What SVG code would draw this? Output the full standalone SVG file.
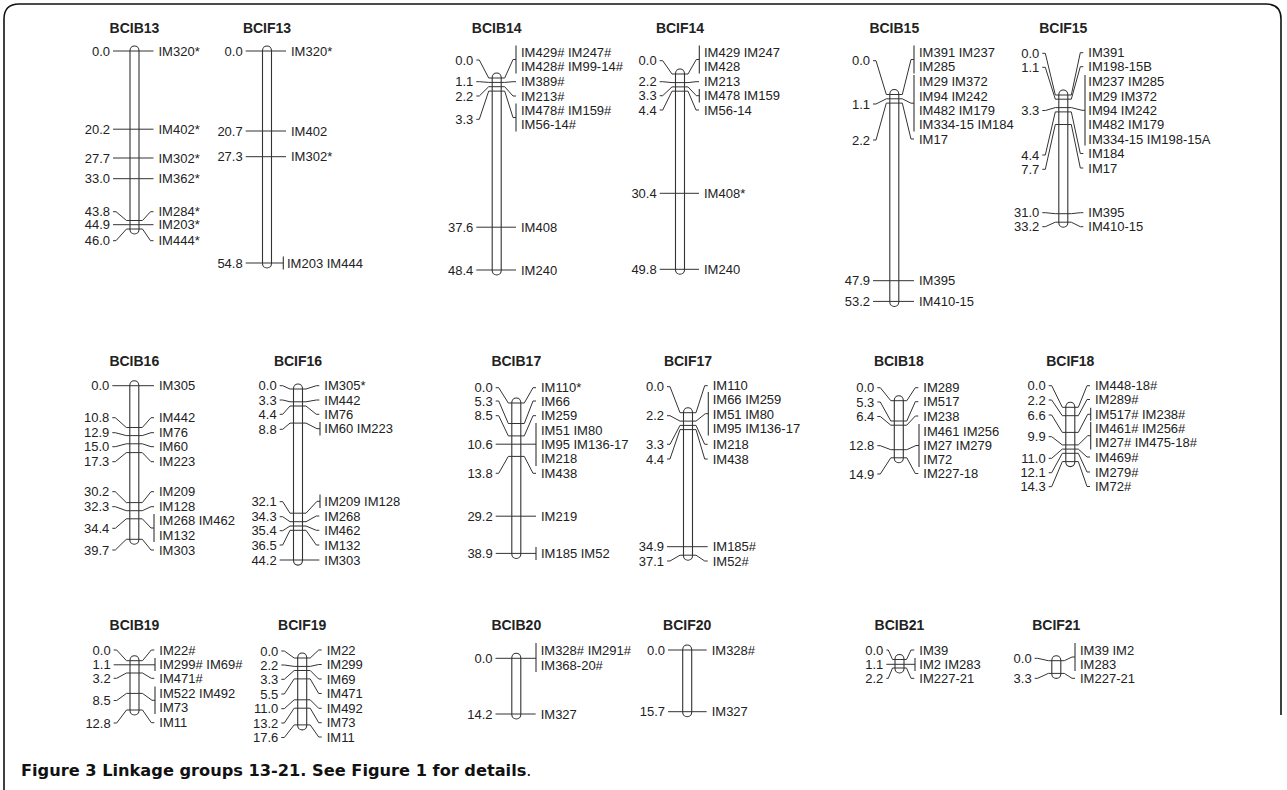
<svg xmlns="http://www.w3.org/2000/svg" width="1287" height="790" viewBox="0 0 1287 790">
<style>
text{font-family:"Liberation Sans",Arial,sans-serif;font-size:13px;fill:#222}
.h{font-weight:bold;text-anchor:middle;font-size:14px}
.n{text-anchor:end}
.bar{fill:#fff;stroke:#333;stroke-width:1.1}
.br{stroke:#333;stroke-width:1.1;fill:none}
.c path{fill:none;stroke:#333;stroke-width:1}
.cap{font-family:"DejaVu Sans","Open Sans",sans-serif;font-size:16.2px;font-weight:bold;fill:#111}
</style>
<rect width="1287" height="790" fill="#fff"/>
<path d="M4,790 V19 Q4,4 19,4 H1266 Q1281,4 1281,19 V715" fill="none" stroke="#111" stroke-width="1.6"/>

<g id="BCIB13">
<text class="h" x="134.5" y="32.5">BCIB13</text>
<rect class="bar" x="130" y="46" width="9" height="188" rx="4.5"/>
<text class="n" x="110" y="55.5">0.0</text><text class="n" x="110" y="133.7">20.2</text><text class="n" x="110" y="162.5">27.7</text><text class="n" x="110" y="183.2">33.0</text><text class="n" x="110" y="216.2">43.8</text><text class="n" x="110" y="229.2">44.9</text><text class="n" x="110" y="245.2">46.0</text>
<text x="158.5" y="55.5">IM320*</text><text x="158.5" y="133.7">IM402*</text><text x="158.5" y="162.5">IM302*</text><text x="158.5" y="183.2">IM362*</text><text x="158.5" y="216.2">IM284*</text><text x="158.5" y="229.2">IM203*</text><text x="158.5" y="245.2">IM444*</text>
</g>

<g id="BCIF13">
<text class="h" x="267" y="32.5">BCIF13</text>
<rect class="bar" x="262.5" y="46" width="9" height="222" rx="4.5"/>
<text class="n" x="242.7" y="55.5">0.0</text><text class="n" x="242.7" y="135.5">20.7</text><text class="n" x="242.7" y="161.2">27.3</text><text class="n" x="242.7" y="267.5">54.8</text>
<text x="291" y="55.5">IM320*</text><text x="291" y="135.5">IM402</text><text x="291" y="161.2">IM302*</text><text x="287" y="267.5">IM203 IM444</text>
<path class="br" d="M283.3,256.5V269.5"/>
</g>

<g id="BCIB14">
<text class="h" x="496.7" y="32.5">BCIB14</text>
<rect class="bar" x="492.2" y="73" width="9" height="202" rx="4.5"/>
<text class="n" x="473.3" y="64.5">0.0</text><text class="n" x="473.3" y="86.2">1.1</text><text class="n" x="473.3" y="100.5">2.2</text><text class="n" x="473.3" y="123.8">3.3</text><text class="n" x="473.3" y="231.7">37.6</text><text class="n" x="473.3" y="274.5">48.4</text>
<text x="521" y="57.2">IM429# IM247#</text><text x="521" y="71.2">IM428# IM99-14#</text><text x="521" y="86.2">IM389#</text><text x="521" y="100.5">IM213#</text><text x="521" y="115">IM478# IM159#</text><text x="521" y="129.3">IM56-14#</text><text x="521" y="231.7">IM408</text><text x="521" y="274.5">IM240</text>
<path class="br" d="M516,45.5V73.5M516,103.5V131.5"/>
</g>

<g id="BCIF14">
<text class="h" x="680" y="32.5">BCIF14</text>
<rect class="bar" x="675.5" y="69" width="9" height="205.2" rx="4.5"/>
<text class="n" x="656.7" y="65.2">0.0</text><text class="n" x="656.7" y="86.2">2.2</text><text class="n" x="656.7" y="100.2">3.3</text><text class="n" x="656.7" y="114.5">4.4</text><text class="n" x="656.7" y="197.8">30.4</text><text class="n" x="656.7" y="273.8">49.8</text>
<text x="704" y="57.2">IM429 IM247</text><text x="704" y="71.2">IM428</text><text x="704" y="86.2">IM213</text><text x="704" y="100.2">IM478 IM159</text><text x="704" y="114.5">IM56-14</text><text x="704" y="197.8">IM408*</text><text x="704" y="273.8">IM240</text>
<path class="br" d="M699.3,45.5V73.5M699.3,89V102.5"/>
</g>

<g id="BCIB15">
<text class="h" x="894.3" y="32.5">BCIB15</text>
<rect class="bar" x="889.8" y="89.5" width="9" height="217" rx="4.5"/>
<text class="n" x="870" y="65.2">0.0</text><text class="n" x="870" y="108.5">1.1</text><text class="n" x="870" y="144.5">2.2</text><text class="n" x="870" y="285.2">47.9</text><text class="n" x="870" y="305.9">53.2</text>
<text x="919" y="57.2">IM391 IM237</text><text x="919" y="71.2">IM285</text><text x="919" y="86.2">IM29 IM372</text><text x="919" y="100.5">IM94 IM242</text><text x="919" y="114.8">IM482 IM179</text><text x="919" y="129.2">IM334-15 IM184</text><text x="919" y="143.5">IM17</text><text x="919" y="285.2">IM395</text><text x="919" y="305.9">IM410-15</text>
<path class="br" d="M914,45.5V73.5M914,75V131.5"/>
</g>

<g id="BCIF15">
<text class="h" x="1063.3" y="32.5">BCIF15</text>
<rect class="bar" x="1058.8" y="90" width="9" height="137.2" rx="4.5"/>
<text class="n" x="1039.3" y="57.8">0.0</text><text class="n" x="1039.3" y="71.8">1.1</text><text class="n" x="1039.3" y="115">3.3</text><text class="n" x="1039.3" y="159.5">4.4</text><text class="n" x="1039.3" y="173.8">7.7</text><text class="n" x="1039.3" y="217.2">31.0</text><text class="n" x="1039.3" y="231.2">33.2</text>
<text x="1088.3" y="57.2">IM391</text><text x="1088.3" y="71.2">IM198-15B</text><text x="1088.3" y="86.2">IM237 IM285</text><text x="1088.3" y="100.5">IM29 IM372</text><text x="1088.3" y="114.8">IM94 IM242</text><text x="1088.3" y="129">IM482 IM179</text><text x="1088.3" y="143.5">IM334-15 IM198-15A</text><text x="1088.3" y="158">IM184</text><text x="1088.3" y="172.5">IM17</text><text x="1088.3" y="217.2">IM395</text><text x="1088.3" y="231.2">IM410-15</text>
<path class="br" d="M1085,75V145.5"/>
</g>

<g id="BCIB16">
<text class="h" x="134.3" y="366">BCIB16</text>
<rect class="bar" x="129.8" y="380.7" width="9" height="163.6" rx="4.5"/>
<text class="n" x="109.3" y="390.2">0.0</text><text class="n" x="109.3" y="422.2">10.8</text><text class="n" x="109.3" y="437.2">12.9</text><text class="n" x="109.3" y="451.2">15.0</text><text class="n" x="109.3" y="466.2">17.3</text><text class="n" x="109.3" y="496.2">30.2</text><text class="n" x="109.3" y="511.2">32.3</text><text class="n" x="109.3" y="532.8">34.4</text><text class="n" x="109.3" y="554.5">39.7</text>
<text x="159" y="390.2">IM305</text><text x="159" y="422.2">IM442</text><text x="159" y="437.2">IM76</text><text x="159" y="451.2">IM60</text><text x="159" y="466.2">IM223</text><text x="159" y="496.2">IM209</text><text x="159" y="511.2">IM128</text><text x="159" y="525.2">IM268 IM462</text><text x="159" y="539.5">IM132</text><text x="159" y="554.5">IM303</text>
<path class="br" d="M154,514V542"/>
</g>

<g id="BCIF16">
<text class="h" x="298" y="366">BCIF16</text>
<rect class="bar" x="293.5" y="384" width="9" height="181.1" rx="4.5"/>
<text class="n" x="276.7" y="390.2">0.0</text><text class="n" x="276.7" y="404.5">3.3</text><text class="n" x="276.7" y="418.8">4.4</text><text class="n" x="276.7" y="433.8">8.8</text><text class="n" x="276.7" y="506.2">32.1</text><text class="n" x="276.7" y="521.2">34.3</text><text class="n" x="276.7" y="535.2">35.4</text><text class="n" x="276.7" y="549.5">36.5</text><text class="n" x="276.7" y="564.5">44.2</text>
<text x="324.3" y="390.2">IM305*</text><text x="324.3" y="404.5">IM442</text><text x="324.3" y="418.8">IM76</text><text x="324.3" y="433.2">IM60 IM223</text><text x="324.3" y="505.8">IM209 IM128</text><text x="324.3" y="520.5">IM268</text><text x="324.3" y="534.8">IM462</text><text x="324.3" y="549.5">IM132</text><text x="324.3" y="564.5">IM303</text>
<path class="br" d="M320,422V435.5M320,494.5V508"/>
</g>

<g id="BCIB17">
<text class="h" x="516.3" y="366">BCIB17</text>
<rect class="bar" x="511.8" y="398" width="9" height="160.5" rx="4.5"/>
<text class="n" x="492.7" y="392.2">0.0</text><text class="n" x="492.7" y="405.5">5.3</text><text class="n" x="492.7" y="420.2">8.5</text><text class="n" x="492.7" y="448.8">10.6</text><text class="n" x="492.7" y="477.8">13.8</text><text class="n" x="492.7" y="520.8">29.2</text><text class="n" x="492.7" y="557.9">38.9</text>
<text x="541" y="392.2">IM110*</text><text x="541" y="405.5">IM66</text><text x="541" y="420.2">IM259</text><text x="541" y="434.5">IM51 IM80</text><text x="541" y="448.8">IM95 IM136-17</text><text x="541" y="463.2">IM218</text><text x="541" y="477.8">IM438</text><text x="541" y="520.8">IM219</text><text x="541" y="557.9">IM185 IM52</text>
<path class="br" d="M536,423V466M536,547V560"/>
</g>

<g id="BCIF17">
<text class="h" x="688" y="366">BCIF17</text>
<rect class="bar" x="683.5" y="407.7" width="9" height="152.5" rx="4.5"/>
<text class="n" x="664" y="391.2">0.0</text><text class="n" x="664" y="420.2">2.2</text><text class="n" x="664" y="448.8">3.3</text><text class="n" x="664" y="463.5">4.4</text><text class="n" x="664" y="551.2">34.9</text><text class="n" x="664" y="565.5">37.1</text>
<text x="712.7" y="390.2">IM110</text><text x="712.7" y="403.8">IM66 IM259</text><text x="712.7" y="418.5">IM51 IM80</text><text x="712.7" y="433">IM95 IM136-17</text><text x="712.7" y="448.8">IM218</text><text x="712.7" y="463.5">IM438</text><text x="712.7" y="551.2">IM185#</text><text x="712.7" y="565.5">IM52#</text>
<path class="br" d="M708.3,392V435.5"/>
</g>

<g id="BCIB18">
<text class="h" x="898.8" y="366">BCIB18</text>
<rect class="bar" x="894.3" y="395.7" width="9" height="67.1" rx="4.5"/>
<text class="n" x="874.3" y="392.2">0.0</text><text class="n" x="874.3" y="406.5">5.3</text><text class="n" x="874.3" y="421">6.4</text><text class="n" x="874.3" y="450.2">12.8</text><text class="n" x="874.3" y="478.5">14.9</text>
<text x="923.3" y="392.2">IM289</text><text x="923.3" y="406.2">IM517</text><text x="923.3" y="420.5">IM238</text><text x="923.3" y="435.5">IM461 IM256</text><text x="923.3" y="449.8">IM27 IM279</text><text x="923.3" y="464">IM72</text><text x="923.3" y="478">IM227-18</text>
<path class="br" d="M919,424V467"/>
</g>

<g id="BCIF18">
<text class="h" x="1070.3" y="366">BCIF18</text>
<rect class="bar" x="1065.8" y="402.3" width="9" height="64.3" rx="4.5"/>
<text class="n" x="1045.7" y="390.2">0.0</text><text class="n" x="1045.7" y="404.5">2.2</text><text class="n" x="1045.7" y="419.5">6.6</text><text class="n" x="1045.7" y="441.2">9.9</text><text class="n" x="1045.7" y="462.8">11.0</text><text class="n" x="1045.7" y="477.2">12.1</text><text class="n" x="1045.7" y="491.2">14.3</text>
<text x="1095" y="390.2">IM448-18#</text><text x="1095" y="404">IM289#</text><text x="1095" y="418.8">IM517# IM238#</text><text x="1095" y="433">IM461# IM256#</text><text x="1095" y="447.3">IM27# IM475-18#</text><text x="1095" y="461.5">IM469#</text><text x="1095" y="476.5">IM279#</text><text x="1095" y="491">IM72#</text>
<path class="br" d="M1090.7,407.8V420.8M1090.7,422V449.5"/>
</g>

<g id="BCIB19">
<text class="h" x="134.5" y="630">BCIB19</text>
<rect class="bar" x="130" y="655.7" width="9" height="59.3" rx="4.5"/>
<text class="n" x="110.7" y="654.5">0.0</text><text class="n" x="110.7" y="669.3">1.1</text><text class="n" x="110.7" y="682.8">3.2</text><text class="n" x="110.7" y="705">8.5</text><text class="n" x="110.7" y="727.5">12.8</text>
<text x="159.3" y="654.5">IM22#</text><text x="159.3" y="669">IM299# IM69#</text><text x="159.3" y="682.8">IM471#</text><text x="159.3" y="697.8">IM522 IM492</text><text x="159.3" y="712.2">IM73</text><text x="159.3" y="727.2">IM11</text>
<path class="br" d="M155,658V671M155,686.5V714"/>
</g>

<g id="BCIF19">
<text class="h" x="302.2" y="630">BCIF19</text>
<rect class="bar" x="297.7" y="653" width="9" height="76.9" rx="4.5"/>
<text class="n" x="278.3" y="655.5">0.0</text><text class="n" x="278.3" y="669.5">2.2</text><text class="n" x="278.3" y="683.8">3.3</text><text class="n" x="278.3" y="698.5">5.5</text><text class="n" x="278.3" y="713.2">11.0</text><text class="n" x="278.3" y="727.5">13.2</text><text class="n" x="278.3" y="742">17.6</text>
<text x="326.7" y="654.5">IM22</text><text x="326.7" y="669">IM299</text><text x="326.7" y="683.5">IM69</text><text x="326.7" y="698">IM471</text><text x="326.7" y="712.8">IM492</text><text x="326.7" y="727.2">IM73</text><text x="326.7" y="741.5">IM11</text>
</g>

<g id="BCIB20">
<text class="h" x="516.3" y="630">BCIB20</text>
<rect class="bar" x="511.8" y="653.3" width="9" height="65.7" rx="4.5"/>
<text class="n" x="492.5" y="662.8">0.0</text><text class="n" x="492.5" y="718.5">14.2</text>
<text x="540.7" y="654.5">IM328# IM291#</text><text x="540.7" y="669.5">IM368-20#</text><text x="540.7" y="718.5">IM327</text>
<path class="br" d="M536,643V672"/>
</g>

<g id="BCIF20">
<text class="h" x="687.2" y="630">BCIF20</text>
<rect class="bar" x="682.7" y="645" width="9" height="71.7" rx="4.5"/>
<text class="n" x="665" y="654.5">0.0</text><text class="n" x="665" y="716.2">15.7</text>
<text x="711.7" y="654.5">IM328#</text><text x="711.7" y="716.2">IM327</text>
</g>

<g id="BCIB21">
<text class="h" x="899.5" y="630">BCIB21</text>
<rect class="bar" x="895" y="654.5" width="9" height="18.5" rx="4.5"/>
<text class="n" x="883.3" y="654.5">0.0</text><text class="n" x="883.3" y="668.8">1.1</text><text class="n" x="883.3" y="682.8">2.2</text>
<text x="919.3" y="654.5">IM39</text><text x="919.3" y="668.8">IM2 IM283</text><text x="919.3" y="682.8">IM227-21</text>
<path class="br" d="M915,658V671"/>
</g>

<g id="BCIF21">
<text class="h" x="1056.3" y="630">BCIF21</text>
<rect class="bar" x="1051.8" y="655.7" width="9" height="22.7" rx="4.5"/>
<text class="n" x="1031.7" y="662.8">0.0</text><text class="n" x="1031.7" y="682.8">3.3</text>
<text x="1080" y="654.5">IM39 IM2</text><text x="1080" y="668.8">IM283</text><text x="1080" y="682.8">IM227-21</text>
<path class="br" d="M1075,643V671"/>
</g>

<g id="connectors" class="c">
<path d="M113 51H153.5M113 129.2H153.5M113 158H153.5M113 178.7H153.5M113 211.7H116L126.5 220.5H142.5L150.5 211.7H153.5M113 224.7H153.5M113 240.7H116L126.5 229H142.5L150.5 240.7H153.5"/>
<path d="M245.7 51H286M245.7 131H286M245.7 156.7H286M245.7 263H283.3"/>
<path d="M476.3 60H479.3L488.7 78H504.7L513 59.5H516M476.3 81.7H479.3L488.7 82.4H504.7L513 81.7H516M476.3 96H479.3L488.7 86.7H504.7L513 96H516M476.3 119.3H479.3L488.7 91.1H504.7L513 117.5H516M476.3 227.2H516M476.3 270H516"/>
<path d="M659.7 60.7H662.7L672 74H688L696.3 59.5H699.3M659.7 81.7H662.7L672 82.6H688L696 81.7H699M659.7 95.7H662.7L672 86.9H688L696.3 95.7H699.3M659.7 110H662.7L672 91.2H688L696 110H699M659.7 193.3H699M659.7 269.3H699"/>
<path d="M873 60.7H876L886.3 94.5H902.3L911 59.5H914M873 104H876L886.3 98.8H902.3L911 103.2H914M873 140H876L886.3 103.1H902.3L911 139H914M873 280.7H914M873 301.4H914"/>
<path d="M1042.3 53.3H1045.3L1055.3 95H1071.3L1080.3 52.7H1083.3M1042.3 67.3H1045.3L1055.3 99.2H1071.3L1080.3 66.7H1083.3M1042.3 110.5H1045.3L1055.3 107.6H1071.3L1082 110.3H1085M1042.3 155H1045.3L1055.3 111.9H1071.3L1080.3 153.5H1083.3M1042.3 169.3H1045.3L1055.3 124.5H1071.3L1080.3 168H1083.3M1042.3 212.7H1045.3L1055.3 213.7H1071.3L1080.3 212.7H1083.3M1042.3 226.7H1045.3L1055.3 222.2H1071.3L1080.3 226.7H1083.3"/>
<path d="M112.3 385.7H154M112.3 417.7H115.3L126.3 427.5H142.3L151 417.7H154M112.3 432.7H115.3L126.3 435.6H142.3L151 432.7H154M112.3 446.7H115.3L126.3 443.8H142.3L151 446.7H154M112.3 461.7H115.3L126.3 452.6H142.3L151 461.7H154M112.3 491.7H115.3L126.3 502.6H142.3L151 491.7H154M112.3 506.7H115.3L126.3 510.7H142.3L151 506.7H154M112.3 528.3H115.3L126.3 518.8H142.3L151 528H154M112.3 550H115.3L126.3 539.3H142.3L151 550H154"/>
<path d="M279.7 385.7H282.7L290 389H306L316.3 385.7H319.3M279.7 400H282.7L290 401.8H306L316.3 400H319.3M279.7 414.3H282.7L290 406H306L316.3 414.3H319.3M279.7 429.3H282.7L290 423.1H306L317 428.7H320M279.7 501.7H282.7L290 513.2H306L317 501.3H320M279.7 516.7H282.7L290 521.7H306L316.3 516H319.3M279.7 530.7H282.7L290 526H306L316.3 530.3H319.3M279.7 545H282.7L290 530.3H306L316.3 545H319.3M279.7 560H319.3"/>
<path d="M495.7 387.7H498.7L508.3 403H524.3L533 387.7H536M495.7 401H498.7L508.3 423.5H524.3L533 401H536M495.7 415.7H498.7L508.3 435.9H524.3L533 415.7H536M495.7 444.2H536M495.7 473.3H498.7L508.3 456.4H524.3L533 473.3H536M495.7 516.2H536M495.7 553.4H536"/>
<path d="M667 386.7H670L680 412.7H696L704.7 385.7H707.7M667 415.7H670L680 421.1H696L705.3 413.7H708.3M667 444.3H670L680 425.4H696L704.7 444.3H707.7M667 459H670L680 429.6H696L704.7 459H707.7M667 546.7H707.7M667 561H670L680 555.2H696L704.7 561H707.7"/>
<path d="M877.3 387.7H880.3L890.8 400.7H906.8L915.3 387.7H918.3M877.3 402H880.3L890.8 421H906.8L915.3 401.7H918.3M877.3 416.5H880.3L890.8 425.2H906.8L915.3 416H918.3M877.3 445.7H880.3L890.8 449.7H906.8L916 445.5H919M877.3 474H880.3L890.8 457.8H906.8L915.3 473.5H918.3"/>
<path d="M1048.7 385.7H1051.7L1062.3 407.3H1078.3L1087 385.7H1090M1048.7 400H1051.7L1062.3 415.7H1078.3L1087 399.5H1090M1048.7 415H1051.7L1062.3 432.4H1078.3L1087.7 414.3H1090.7M1048.7 436.7H1051.7L1062.3 444.9H1078.3L1087.7 435.7H1090.7M1048.7 458.3H1051.7L1062.3 449.1H1078.3L1087 457H1090M1048.7 472.7H1051.7L1062.3 453.3H1078.3L1087 472H1090M1048.7 486.7H1051.7L1062.3 461.6H1078.3L1087 486.5H1090"/>
<path d="M113.7 650H116.7L126.5 660.7H142.5L151.3 650H154.3M113.7 664.8H155M113.7 678.3H116.7L126.5 673H142.5L151.3 678.3H154.3M113.7 700.5H116.7L126.5 693.4H142.5L152 700.3H155M113.7 723H116.7L126.5 710H142.5L151.3 722.7H154.3"/>
<path d="M281.3 651H284.3L294.2 658H310.2L318.7 650H321.7M281.3 665H284.3L294.2 666.4H310.2L318.7 664.5H321.7M281.3 679.3H284.3L294.2 670.5H310.2L318.7 679H321.7M281.3 694H284.3L294.2 678.9H310.2L318.7 693.5H321.7M281.3 708.7H284.3L294.2 699.8H310.2L318.7 708.3H321.7M281.3 723H284.3L294.2 708.2H310.2L318.7 722.7H321.7M281.3 737.5H284.3L294.2 724.9H310.2L318.7 737H321.7"/>
<path d="M495.5 658.3H536M495.5 714H535.7"/>
<path d="M668 650H706.7M668 711.7H706.7"/>
<path d="M886.3 650H888.3L892.5 659.5H906.5L911 650H914.3M886.3 664.3H915M886.3 678.3H888.3L892.5 668H906.5L911 678.3H914.3"/>
<path d="M1034.7 658.3H1037.7L1048.3 660.7H1064.3L1072 657H1075M1034.7 678.3H1037.7L1048.3 673.4H1064.3L1072 678.3H1075"/>
</g>

<text class="cap" x="21" y="776">Figure 3 Linkage groups 13-21. See Figure 1 for details<tspan font-weight="normal">.</tspan></text>
</svg>
